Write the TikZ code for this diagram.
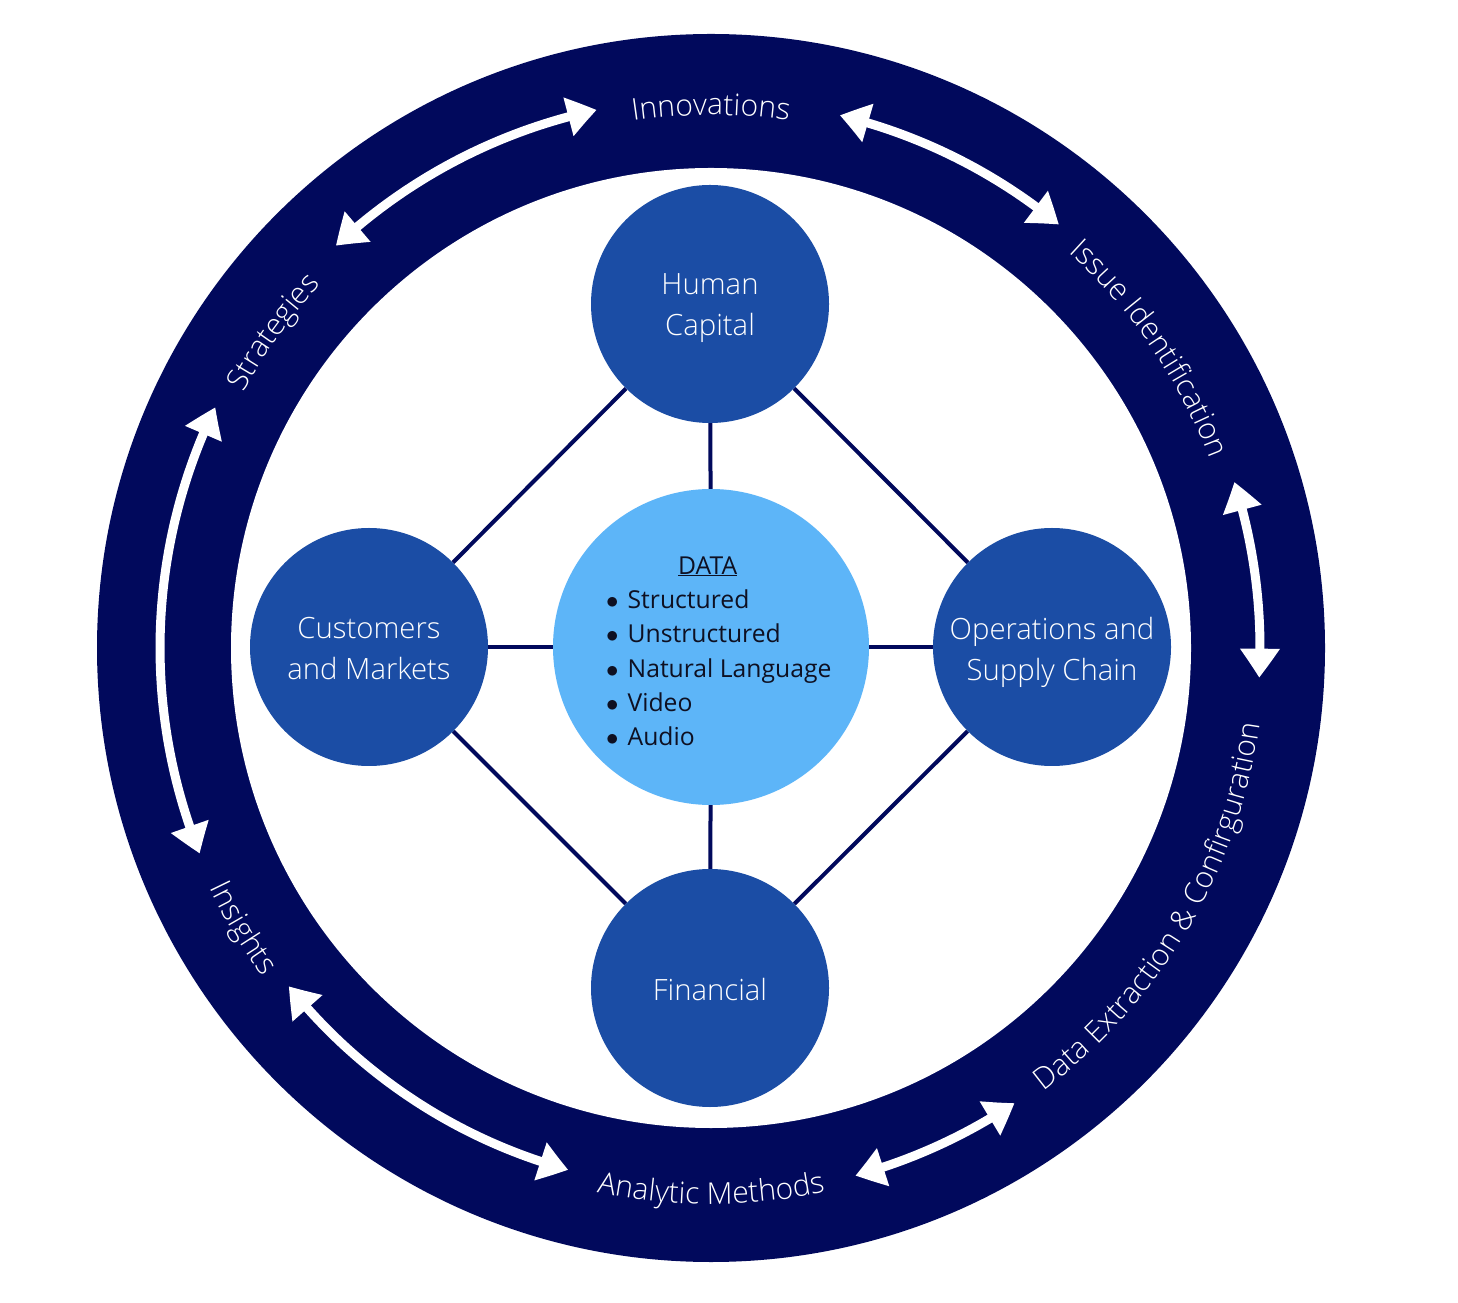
\documentclass[tikz,border=0pt]{standalone}
\usepackage{fontspec}
\setmainfont{Open Sans}
\newfontfamily\oslight{Open Sans Light}
\usetikzlibrary{arrows.meta,bending,decorations.text}
\definecolor{navy}{RGB}{1,9,92}
\definecolor{midblue}{RGB}{27,77,165}
\definecolor{lightblue}{RGB}{93,181,248}
\definecolor{listink}{RGB}{14,16,34}
\newcommand\ringfont{\fontsize{30}{34}\selectfont\oslight\color{white}}
\newcommand\blt{$\bullet$}
\begin{document}
\begin{tikzpicture}[x=1pt,y=1pt,
  topic/.style={circle, fill=midblue, minimum size=238pt, inner sep=0pt},
  topictext/.style={text=white, align=center, inner sep=0pt, font=\oslight\fontsize{29.3}{41}\selectfont},
  datacircle/.style={circle, fill=lightblue, minimum size=316pt, inner sep=0pt},
  conn/.style={navy, line width=4pt},
  ringarrow/.style={white, line width=9pt, {Triangle[width=38pt,length=29pt,bend]}-{Triangle[width=38pt,length=29pt,bend]}}
]
\useasboundingbox (0,0) rectangle (1458,1302);
\coordinate (C) at (711,654);
% ring
\fill[navy] (C) circle[radius=614];
\fill[white] (C) circle[radius=480];
% ring arrows
\draw[ringarrow] (C) ++(102:550) arc[start angle=102, end angle=133, radius=550];
\draw[ringarrow] (C) ++(76.4:548) arc[start angle=76.4, end angle=50.6, radius=548];
\draw[ringarrow] (C) ++(17.6:549) arc[start angle=17.6, end angle=-3.1, radius=549];
\draw[ringarrow] (C) ++(-56.3:547) arc[start angle=-56.3, end angle=-74.7, radius=547];
\draw[ringarrow] (C) ++(-105.3:541) arc[start angle=-105.3, end angle=-141.3, radius=541];
\draw[ringarrow] (C) ++(201.9:551) arc[start angle=201.9, end angle=154.1, radius=551];
% ring labels (top half clockwise, bottom half counterclockwise)
\path[decorate, decoration={text along path, text align=center, text={|\ringfont|Innovations}}]
  (C) ++(130:533) arc[start angle=130, end angle=50, radius=533];
\path[decorate, decoration={text along path, text align=center, text={|\ringfont|Issue Identification}}]
  (C) ++(79.3:533) arc[start angle=79.3, end angle=-10.7, radius=533];
\path[decorate, decoration={text along path, text align=center, text={|\ringfont|Strategies}}]
  (C) ++(184.2:533) arc[start angle=184.2, end angle=104.2, radius=533];
\path[decorate, decoration={text along path, text align=center, text={|\ringfont|Analytic Methods}}]
  (C) ++(-130:556) arc[start angle=-130, end angle=-50, radius=556];
\path[decorate, decoration={text along path, text align=center, text={|\ringfont|Data Extraction {\&} Confirguration}}]
  (C) ++(-80.5:554) arc[start angle=-80.5, end angle=19.5, radius=554];
\path[decorate, decoration={text along path, text align=center, text={|\ringfont|Insights}}]
  (C) ++(175.9:556) arc[start angle=175.9, end angle=245.9, radius=556];
% nodes
\node[datacircle] (data) at (711,655) {};
\node[topic, label={[topictext, yshift=-4pt]center:Human\\Capital}] (hc) at (710,998) {};
\node[topic, label={[topictext, yshift=-2pt]center:Customers\\and Markets}] (cm) at (369,655) {};
\node[topic, label={[topictext, yshift=-5pt]center:Operations and\\Supply Chain}] (os) at (1052,655) {};
\node[topic, label={[topictext, yshift=-2pt]center:Financial}] (fin) at (710,314) {};
\node[text=listink, font=\fontsize{24.7}{34.3}\selectfont, anchor=west, inner sep=0pt] (datatext) at (606,649)
  {\begin{tabular}{@{}l@{\hspace{9pt}}l@{}}
   \multicolumn{2}{@{}l@{}}{\hspace{72pt}\underline{DATA}}\\
   \blt & Structured\\
   \blt & Unstructured\\
   \blt & Natural Language\\
   \blt & Video\\
   \blt & Audio
   \end{tabular}};
% connectors
\draw[conn] (hc) -- (data);
\draw[conn] (cm) -- (data);
\draw[conn] (os) -- (data);
\draw[conn] (fin) -- (data);
\draw[conn] (hc) -- (cm);
\draw[conn] (hc) -- (os);
\draw[conn] (fin) -- (cm);
\draw[conn] (fin) -- (os);
\end{tikzpicture}
\end{document}
